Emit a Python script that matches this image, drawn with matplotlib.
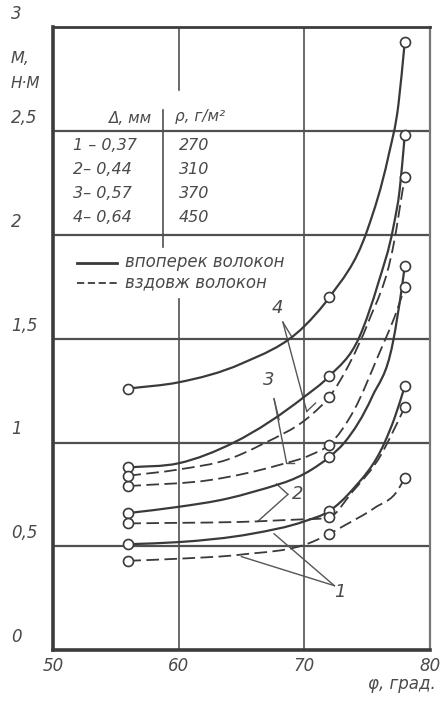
import numpy as np
import matplotlib
matplotlib.use('Agg')
import matplotlib.pyplot as plt
from matplotlib.path import Path
from matplotlib.patches import PathPatch

# точки с кружками
phi_marks = [56, 72, 78]

# кривые: phi, град  /  M, Н*м
phi_1s = [56, 60, 65.8, 70, 72, 73.8, 76.4, 77.2, 78]
m_1s = [0.51, 0.52, 0.56, 0.62, 0.67, 0.77, 1.00, 1.12, 1.27]
phi_1d = [56, 60, 65, 70.6, 72, 73.2, 75.6, 77.5, 78]
m_1d = [0.43, 0.44, 0.46, 0.52, 0.56, 0.60, 0.685, 0.775, 0.83]

phi_2s = [56, 60, 63.9, 65.8, 70.6, 72, 73.2, 75.4, 77.05, 77.8, 78]
m_2s = [0.66, 0.69, 0.73, 0.76, 0.87, 0.93, 1.00, 1.22, 1.48, 1.76, 1.85]
phi_2d = [56, 66.3, 70, 72, 73.8, 76.2, 76.8, 78]
m_2d = [0.61, 0.62, 0.63, 0.64, 0.76, 0.95, 1.02, 1.17]

phi_3s = [56, 60, 64.4, 70, 72, 74.4, 75.9, 77.1, 77.6, 78]
m_3s = [0.88, 0.90, 1.00, 1.22, 1.32, 1.51, 1.77, 2.04, 2.22, 2.48]
phi_3d = [56, 62.6, 67.9, 70.5, 72, 74, 75.9, 77.4, 78]
m_3d = [0.79, 0.82, 0.89, 0.94, 0.99, 1.16, 1.42, 1.64, 1.75]

phi_4s = [56, 60, 65, 70, 72, 75, 76.7, 77.5, 78]
m_4s = [1.26, 1.29, 1.38, 1.56, 1.70, 2.02, 2.38, 2.63, 2.93]
phi_4d = [56, 60, 64, 66.6, 70.7, 72, 73.6, 75.1, 77.1, 78]
m_4d = [0.84, 0.87, 0.92, 0.99, 1.14, 1.22, 1.38, 1.58, 1.95, 2.28]

y_ticks = [0, 0.5, 1, 1.5, 2, 2.5, 3]
y_labels = ['0', '0,5', '1', '1,5', '2', '2,5', '3']
x_ticks = [50, 60, 70, 80]

table_d = ['1 – 0,37', '2– 0,44', '3– 0,57', '4– 0,64']
table_p = ['270', '310', '370', '450']

ink = '#3a3a3a'
txt = '#4a4a4a'
fnt = dict(family='DejaVu Sans', style='italic', color=txt)


def smooth(x, y):
    # кубический сплайн Эрмита -> кривые Безье (рисует сам matplotlib)
    x = np.asarray(x, float)
    y = np.asarray(y, float)
    h = np.diff(x)
    d = np.diff(y) / h
    m = np.zeros_like(y)
    m[0] = d[0]
    m[-1] = d[-1]
    for k in range(1, len(x) - 1):
        if d[k - 1] * d[k] <= 0:
            m[k] = 0
        else:
            m[k] = (h[k] * d[k - 1] + h[k - 1] * d[k]) / (h[k - 1] + h[k])
    for k in range(len(h)):
        if d[k] == 0:
            m[k] = m[k + 1] = 0
            continue
        a, b = m[k] / d[k], m[k + 1] / d[k]
        if a * a + b * b > 9:
            t = 3 / np.hypot(a, b)
            m[k], m[k + 1] = t * a * d[k], t * b * d[k]
    verts = [(x[0], y[0])]
    codes = [Path.MOVETO]
    for k in range(len(h)):
        verts += [(x[k] + h[k] / 3, y[k] + m[k] * h[k] / 3),
                  (x[k + 1] - h[k] / 3, y[k + 1] - m[k + 1] * h[k] / 3),
                  (x[k + 1], y[k + 1])]
        codes += [Path.CURVE4] * 3
    return Path(verts, codes)


fig = plt.figure(figsize=(4.45, 7.05), dpi=100)
ax = fig.add_axes([0.119, 0.078, 0.847, 0.883])
ax.set_xlim(50, 80)
ax.set_ylim(0, 3)

# сетка
for v in [0.5, 1, 1.5, 2, 2.5]:
    ax.axhline(v, color='#505050', lw=1.6, zorder=1)
ax.axvline(70, color='#505050', lw=1.2, zorder=1)
ax.axvline(60, ymin=0, ymax=1.69 / 3, color='#505050', lw=1.2, zorder=1)
ax.axvline(60, ymin=2.70 / 3, ymax=1, color='#505050', lw=1.2, zorder=1)

curves = [(phi_1s, m_1s, '-'), (phi_1d, m_1d, '--'),
          (phi_2s, m_2s, '-'), (phi_2d, m_2d, '--'),
          (phi_3s, m_3s, '-'), (phi_3d, m_3d, '--'),
          (phi_4s, m_4s, '-'), (phi_4d, m_4d, '--')]

for px, py, st in curves:
    ls = '-' if st == '-' else (0, (7, 3))
    lw = 1.6 if st == '-' else 1.3
    ax.add_patch(PathPatch(smooth(px, py), fill=False, ec=ink, lw=lw, ls=ls, zorder=3))
    px = np.array(px)
    py = np.array(py)
    sel = np.isin(px, phi_marks)
    ax.plot(px[sel], py[sel], 'o', ms=7.2, mfc='white', mec=ink, mew=1.2, zorder=4)

# выноски к номерам кривых
leaders = [((68.3, 1.58), (69.0, 1.51)), ((68.3, 1.58), (70.2, 1.15)),
           ((67.6, 1.21), (68.0, 1.11)), ((67.6, 1.21), (68.6, 0.90)),
           ((68.7, 0.75), (67.8, 0.80)), ((68.7, 0.75), (66.3, 0.62)),
           ((72.4, 0.31), (65.0, 0.45)), ((72.4, 0.31), (67.6, 0.56))]
for a, b in leaders:
    ax.plot([a[0], b[0]], [a[1], b[1]], color='#555555', lw=1.0, zorder=2)
ax.plot([70.2, 70.9], [1.15, 1.19], color='#555555', lw=1.0, zorder=2)
ax.plot([68.6, 69.2], [0.90, 0.90], color='#555555', lw=1.0, zorder=2)

for s, xx, yy in [('4', 67.9, 1.65), ('3', 67.2, 1.30), ('2', 69.5, 0.75), ('1', 72.8, 0.28)]:
    ax.text(xx, yy, s, fontsize=13, ha='center', va='center', zorder=5, **fnt)

# таблица
ax.text(57.9, 2.56, 'Δ, мм', fontsize=11, ha='right', va='center', **fnt)
ax.text(59.7, 2.57, 'ρ, г/м²', fontsize=11, ha='left', va='center', **fnt)
for i, (a, b) in enumerate(zip(table_d, table_p)):
    yy = 2.43 - i * 0.116
    ax.text(51.6, yy, a, fontsize=11.5, ha='left', va='center', **fnt)
    ax.text(60.0, yy, b, fontsize=11.5, ha='left', va='center', **fnt)
ax.plot([58.75, 58.75], [1.94, 2.60], color='#505050', lw=1.2)

# легенда
ax.plot([51.9, 55.1], [1.865, 1.865], color=ink, lw=2.0)
ax.plot([51.9, 55.1], [1.77, 1.77], color=ink, lw=1.3, ls=(0, (4, 2)))
ax.text(55.7, 1.87, 'впоперек волокон', fontsize=12, ha='left', va='center', **fnt)
ax.text(55.7, 1.77, 'вздовж волокон', fontsize=12, ha='left', va='center', **fnt)

# оси
ax.set_xticks(x_ticks)
ax.set_xticklabels([str(v) for v in x_ticks], fontsize=12, **fnt)
ax.set_yticks([])
ax.tick_params(axis='x', length=0, pad=5)
for v, s in zip(y_ticks, y_labels):
    ax.text(-0.112, v + 0.02, s, transform=ax.get_yaxis_transform(), fontsize=12,
            ha='left', va='bottom', **fnt)
ax.text(-0.112, 2.85, 'M,', transform=ax.get_yaxis_transform(), fontsize=11.5,
        ha='left', va='center', **fnt)
ax.text(-0.112, 2.73, 'Н·М', transform=ax.get_yaxis_transform(), fontsize=11,
        ha='left', va='center', **fnt)
fig.text(0.98, 0.017, 'φ, град.', fontsize=12, ha='right', va='bottom', **fnt)

ax.spines['left'].set_linewidth(2.6)
ax.spines['bottom'].set_linewidth(2.6)
ax.spines['top'].set_linewidth(2.0)
ax.spines['right'].set_linewidth(1.6)
for sp in ax.spines.values():
    sp.set_color('#3c3c3c')
ax.spines['right'].set_color('#777777')

fig.savefig('out.png', dpi=100)
